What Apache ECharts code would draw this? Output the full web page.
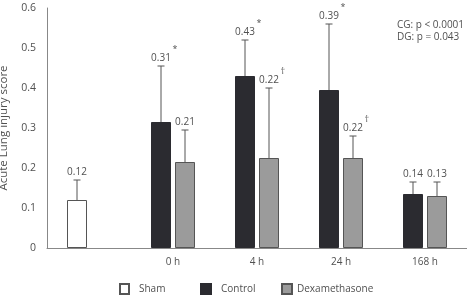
<!DOCTYPE html>
<html lang="en">
<head>
    <meta charset="UTF-8">
    <title>Acute Lung injury score</title>
    <script src="https://cdn.jsdelivr.net/npm/echarts@6/dist/echarts.min.js"></script>
    <style type="text/css">
        html, body { margin: 0; padding: 0; background: #fff; }
        #box { width: 467px; height: 295px; }
    </style>
</head>
<body>
    <div id="box"></div>
<script>
    var categories = ['', '0 h', '4 h', '24 h', '168 h'];
    var shamValues = [0.12, '-', '-', '-', '-'];
    var controlValues = ['-', 0.315, 0.43, 0.395, 0.135];
    var dexValues = ['-', 0.215, 0.225, 0.225, 0.13];
    // top of the error bars
    var shamErr = [0.17, '-', '-', '-', '-'];
    var controlErr = ['-', 0.455, 0.52, 0.56, 0.165];
    var dexErr = ['-', 0.295, 0.40, 0.28, 0.165];
    var shamLabels = ['0.12', '', '', '', ''];
    var controlLabels = ['', '0.31', '0.43', '0.39', '0.14'];
    var dexLabels = ['', '0.21', '0.22', '0.22', '0.13'];
    var controlSig = ['', '*', '*', '*', ''];
    var dexSig = ['', '', '\u2020', '\u2020', ''];

    var font = 'Open Sans';
    var txt = '#505050';

    function errSeries(values, errs, labels, sigs, shift) {
        var data = [];
        for (var i = 0; i < values.length; i++) {
            if (values[i] !== '-') data.push([i, values[i], errs[i]]);
        }
        return {
            type: 'custom',
            z: 5,
            silent: true,
            data: data,
            renderItem: function (params, api) {
                var i = api.value(0);
                var base = api.coord([i, api.value(1)]);
                var top = api.coord([i, api.value(2)]);
                var x = base[0] + shift;
                var st = { stroke: '#555', lineWidth: 1 };
                return {
                    type: 'group',
                    children: [
                        { type: 'line', shape: { x1: x, y1: base[1], x2: x, y2: top[1] }, style: st },
                        { type: 'line', shape: { x1: x - 3.5, y1: top[1], x2: x + 3.5, y2: top[1] }, style: st },
                        { type: 'text', x: x, y: top[1] - 3, style: {
                            text: labels[i], fill: txt, font: '10px "' + font + '"',
                            align: 'center', verticalAlign: 'bottom' } },
                        { type: 'text', x: x + 11.5, y: top[1] - 12, style: {
                            text: sigs[i], fill: txt, font: '9px "' + font + '"',
                            align: 'left', verticalAlign: 'bottom' } }
                    ]
                };
            }
        };
    }

    var noSig = ['', '', '', '', ''];
    var chart = echarts.init(document.getElementById('box'));
    chart.setOption({
        animation: false,
        textStyle: { fontFamily: font },
        grid: { left: 47, right: 0, top: 8, bottom: 47, outerBoundsMode: 'none', containLabel: false },
        legend: [
            { data: ['Sham'], left: 114, top: 278, itemWidth: 9, pad: 5 },
            { data: ['Control'], left: 195, top: 278, itemWidth: 10, pad: 5 },
            { data: ['Dexamethasone'], left: 276, top: 278, itemWidth: 10, pad: 0 }
        ].map(function (l) {
            l.icon = 'rect'; l.itemHeight = 10;
            l.textStyle = { color: txt, fontSize: 10, fontFamily: font, padding: [0, 0, 0, l.pad] };
            delete l.pad;
            return l;
        }),
        xAxis: {
            type: 'category',
            data: categories,
            axisLine: { lineStyle: { color: '#888' } },
            axisTick: { show: false },
            axisLabel: { color: txt, fontSize: 10, margin: 9 }
        },
        yAxis: {
            type: 'value',
            min: 0, max: 0.6, interval: 0.1,
            name: 'Acute Lung injury score',
            nameLocation: 'middle',
            nameGap: 37,
            nameTextStyle: { color: txt, fontSize: 11.5 },
            axisLine: { show: true, lineStyle: { color: '#888' } },
            axisTick: { show: false },
            splitLine: { show: false },
            axisLabel: { color: txt, fontSize: 10.5, margin: 11, padding: [0, 0, 8, 0] }
        },
        series: [
            { name: 'Sham', type: 'bar', stack: 'a', data: shamValues, barWidth: 20, barGap: '20%',
              itemStyle: { color: '#fff', borderColor: '#555', borderWidth: 1 } },
            { name: 'Control', type: 'bar', stack: 'a', data: controlValues, barWidth: 20, barGap: '20%',
              itemStyle: { color: '#2b2b30', borderColor: '#2b2b30', borderWidth: 1 } },
            { name: 'Dexamethasone', type: 'bar', stack: 'b', data: dexValues, barWidth: 20, barGap: '20%',
              itemStyle: { color: '#9b9b9b', borderColor: '#555', borderWidth: 1 } },
            errSeries(shamValues, shamErr, shamLabels, noSig, -12),
            errSeries(controlValues, controlErr, controlLabels, controlSig, -12),
            errSeries(dexValues, dexErr, dexLabels, dexSig, 12)
        ],
        graphic: [{
            type: 'text', left: 397, top: 19,
            style: { text: 'CG: p < 0.0001\nDG: p = 0.043', fill: txt, font: '10px "Open Sans"', lineHeight: 12 }
        }]
    });
</script>
</body>
</html>
